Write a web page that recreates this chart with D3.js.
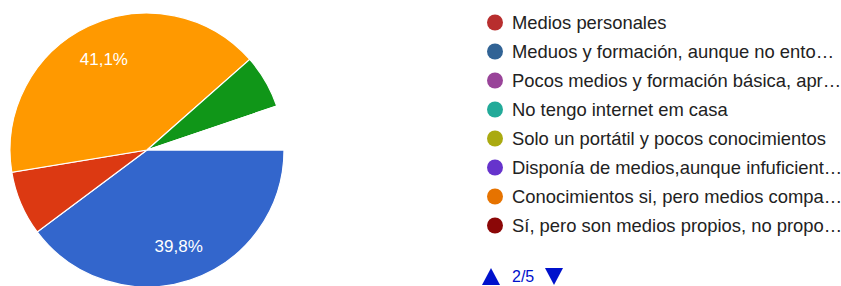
<!DOCTYPE html>
<html>
<head>
<meta charset="utf-8">
<script src="https://cdn.jsdelivr.net/npm/d3@7"></script>
<style>
  body { margin: 0; background: #fff; }
  text { font-family: "Liberation Sans", Arial, sans-serif; }
</style>
</head>
<body>
<div id="chart"></div>
<script>
// slices visible in the pie (percent)
var sliceNames = ["Meduos y formación", "Otros 1", "Conocimientos si", "Otros 2", "Resto"];
var sliceValues = [39.8, 7.6, 41.1, 6.3, 5.2];
var sliceColors = ["#3366cc", "#dc3912", "#ff9900", "#109618", "#ffffff"];
var sliceLabels = ["39,8%", "", "41,1%", "", ""];

// legend, page 2 of 5
var legendLabels = [
  "Medios personales",
  "Meduos y formación, aunque no ento…",
  "Pocos medios y formación básica, apr…",
  "No tengo internet em casa",
  "Solo un portátil y pocos conocimientos",
  "Disponía de medios,aunque infuficient…",
  "Conocimientos si, pero medios compa…",
  "Sí, pero son medios propios, no propo…"
];
var legendColors = ["#b82e2e", "#316395", "#994499", "#22aa99", "#aaaa11", "#6633cc", "#e67300", "#8b0707"];
var pageText = "2/5";

var width = 841, height = 286;
var svg = d3.select("#chart")
  .append("svg")
    .attr("width", width)
    .attr("height", height);

// pie
var radius = 137;
var g = svg.append("g")
  .attr("transform", "translate(147,150)");

var pie = d3.pie()
  .sort(null)
  .startAngle(Math.PI / 2)
  .endAngle(Math.PI / 2 + 2 * Math.PI);

var arc = d3.arc().innerRadius(0).outerRadius(radius);
var labelArc = d3.arc().innerRadius(radius * 0.735).outerRadius(radius * 0.735);

var arcs = pie(sliceValues);

g.selectAll("path")
  .data(arcs)
  .enter()
  .append("path")
    .attr("d", arc)
    .attr("fill", function (d, i) { return sliceColors[i]; })
    .attr("stroke", "#fff")
    .attr("stroke-width", 1.2);

g.selectAll("text.pct")
  .data(arcs)
  .enter()
  .append("text")
    .attr("class", "pct")
    .attr("transform", function (d) { return "translate(" + labelArc.centroid(d) + ")"; })
    .attr("text-anchor", "middle")
    .attr("dy", "0.35em")
    .style("font-size", "17px")
    .style("fill", "#fff")
    .text(function (d, i) { return sliceLabels[i]; });

// legend
var y = d3.scaleBand()
  .domain(d3.range(legendLabels.length))
  .range([8, 240]);

var legend = svg.append("g");
var rows = legend.selectAll("g")
  .data(legendLabels)
  .enter()
  .append("g")
    .attr("transform", function (d, i) { return "translate(0," + (y(i) + y.bandwidth() / 2) + ")"; });

rows.append("circle")
  .attr("cx", 495)
  .attr("cy", 0)
  .attr("r", 8)
  .attr("fill", function (d, i) { return legendColors[i]; });

rows.append("text")
  .attr("x", 512)
  .attr("y", 0)
  .attr("dy", "0.36em")
  .style("font-size", "18.4px")
  .style("fill", "#222")
  .text(function (d) { return d; });

// pager
var pager = svg.append("g").attr("transform", "translate(0,276)");
pager.append("path")
  .attr("d", "M482,9 L491,-8 L500,9 Z")
  .attr("fill", "#0011cc");
pager.append("text")
  .attr("x", 512)
  .attr("y", 0)
  .attr("dy", "0.36em")
  .style("font-size", "16px")
  .style("fill", "#0011cc")
  .text(pageText);
pager.append("path")
  .attr("d", "M545,-8 L563,-8 L554,9 Z")
  .attr("fill", "#0011cc");
</script>
</body>
</html>
